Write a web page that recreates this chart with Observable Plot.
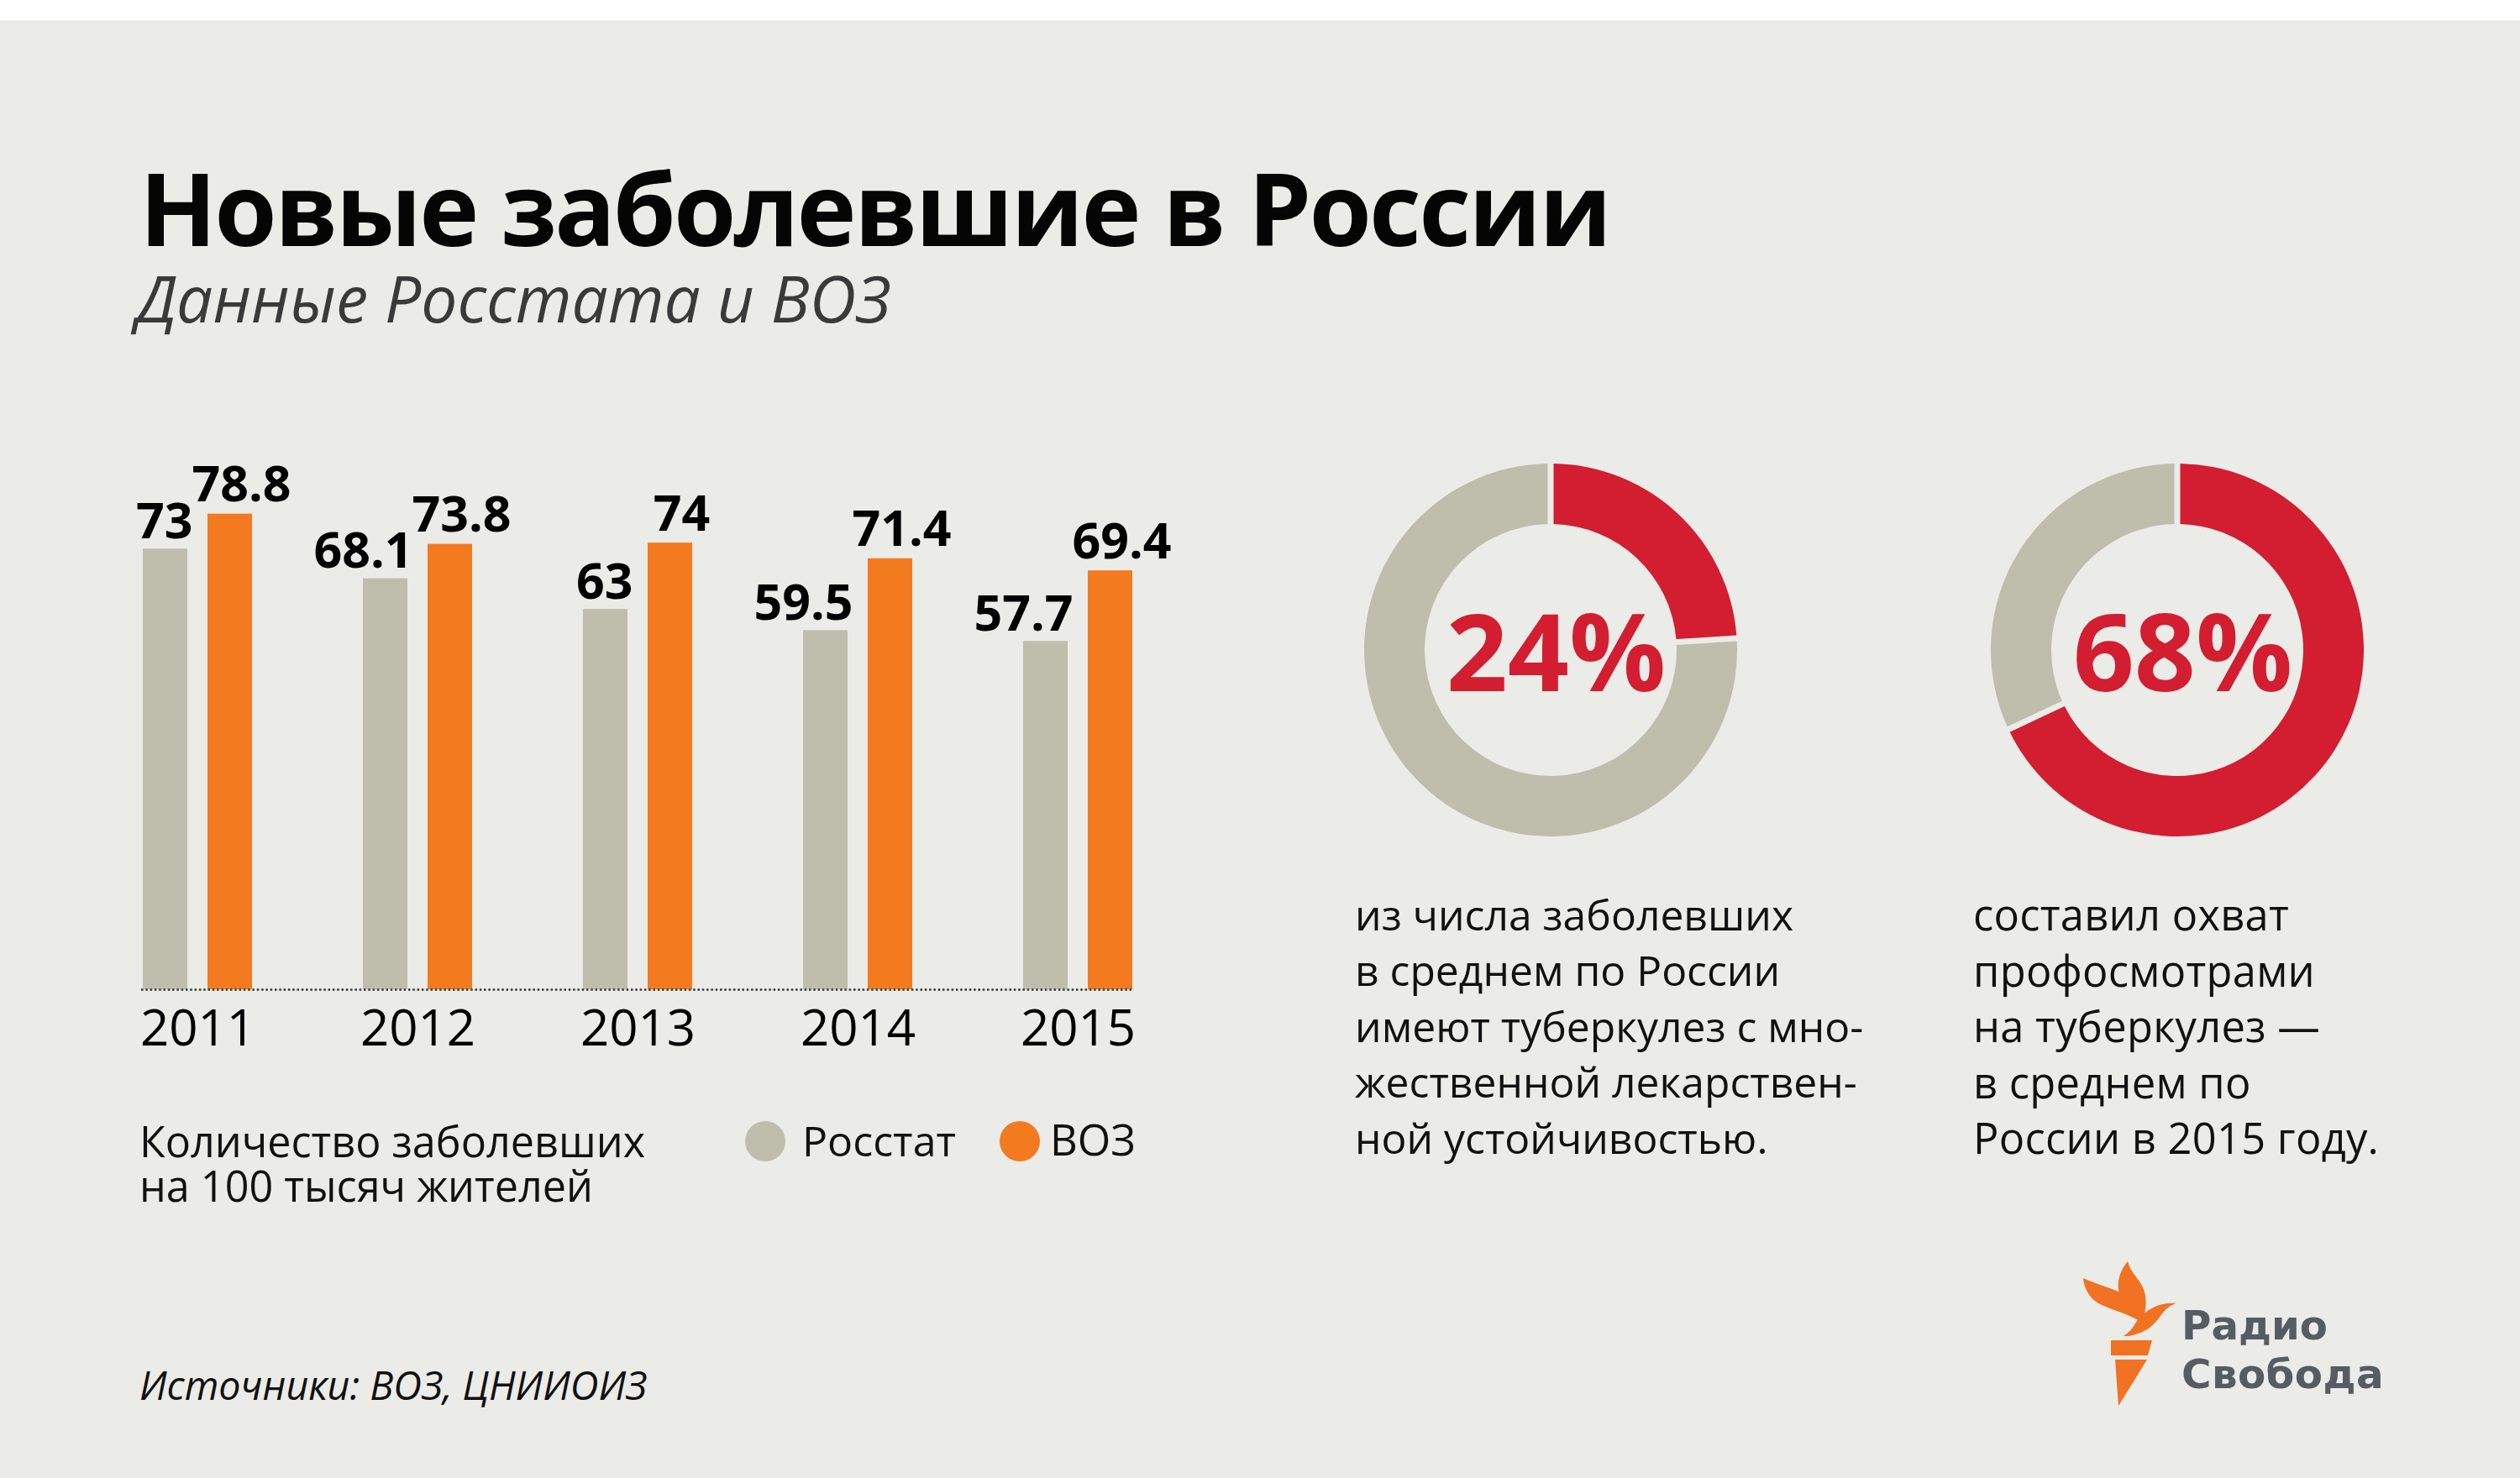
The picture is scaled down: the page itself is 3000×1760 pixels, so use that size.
<!DOCTYPE html>
<html>
<head>
<meta charset="utf-8">
<script src="https://cdn.jsdelivr.net/npm/d3@7"></script>
<script src="https://cdn.jsdelivr.net/npm/@observablehq/plot@0.6"></script>
<style>
  html, body { margin: 0; padding: 0; }
  body { width: 3000px; height: 1760px; position: relative; overflow: hidden;
         background: #ebebe7; font-family: "Open Sans", "Noto Sans", sans-serif; color: #000; }
  #topband { position: absolute; left: 0; top: 0; width: 3000px; height: 24px; background: #fff; }
  .t { position: absolute; white-space: nowrap; }
  .abs { position: absolute; }
  .dot { position: absolute; width: 48px; height: 48px; border-radius: 50%; }
</style>
</head>
<body>
<div id="topband"></div>
<script>
// ---------- data ----------
const years = ["2011", "2012", "2013", "2014", "2015"];
const rosstat = [73, 68.1, 63, 59.5, 57.7];
const who = [78.8, 73.8, 74, 71.4, 69.4];
const seriesNames = ["Росстат", "ВОЗ"];

const donutLabels = ["24%", "68%"];
const donutShares = [24, 68];

const titleText = "Новые заболевшие в России";
const subtitleText = "Данные Росстата и ВОЗ";
const unitLines = ["Количество заболевших", "на 100 тысяч жителей"];
const sourceText = "Источники: ВОЗ, ЦНИИОИЗ";
const donutText1 = ["из числа заболевших", "в среднем по России", "имеют туберкулез с мно-", "жественной лекарствен-", "ной устойчивостью."];
const donutText2 = ["составил охват", "профосмотрами", "на туберкулез —", "в среднем по", "России в 2015 году."];
const logoLines = ["Радио", "Свобода"];

// ---------- styles ----------
const GRAY = "#bfbeac";
const ORANGE = "#f47a20";
const RED = "#d21e30";

// ---------- helpers ----------
function styleEl(el, o) {
  Object.assign(el.style, {
    left: o.x + "px",
    fontWeight: o.weight ?? 400,
    fontStyle: o.style ?? "normal",
    color: o.color ?? "#000",
    fontFamily: o.family ?? "inherit"
  });
}
function setSize(el, o, size) {
  const k = o.metric ?? 0.888;
  el.style.fontSize = size + "px";
  el.style.lineHeight = size + "px";
  el.style.top = (el._baseline - k * size) + "px";
}
// Each line is its own element; width of first line fitted by size (clamped) then letter spacing.
function addBlock(lines, o) {
  let size = o.size, ls = 0;
  lines.forEach((s, i) => {
    const el = document.createElement("div");
    el._baseline = o.baseline + i * (o.lh ?? 0);
    el.className = "t";
    el.textContent = s;
    styleEl(el, o);
    document.body.appendChild(el);
    setSize(el, o, o.size);
    if (i === 0 && o.target) {
      const w0 = el.getBoundingClientRect().width;
      const sc = Math.max(o.lo ?? 1, Math.min(o.hi ?? 1, o.target / w0));
      size = o.size * sc;
      setSize(el, o, size);
      const w1 = el.getBoundingClientRect().width;
      ls = (o.target - w1) / s.length;
    }
    setSize(el, o, size);
    el.style.letterSpacing = ls + "px";
  });
}
function addText(str, o) { addBlock([str], o); }
// Multi-line text in a single element (Open Sans metrics).
function addMultiline(lines, o) {
  const el = document.createElement("div");
  el.className = "t";
  el.style.whiteSpace = "pre";
  styleEl(el, o);
  document.body.appendChild(el);
  const place = (size) => {
    el.style.fontSize = size + "px";
    el.style.lineHeight = o.lh + "px";
    el.style.top = (o.baseline - o.lh / 2 - 0.388 * size) + "px";
  };
  // measure first line alone
  el.textContent = lines[0];
  place(o.size);
  const w0 = el.getBoundingClientRect().width;
  const sc = Math.max(o.lo ?? 1, Math.min(o.hi ?? 1, o.target / w0));
  const size = o.size * sc;
  place(size);
  const w1 = el.getBoundingClientRect().width;
  el.style.letterSpacing = ((o.target - w1) / lines[0].length) + "px";
  el.textContent = lines.join("\n");
}

// ---------- titles ----------
addText(titleText, {x: 166, baseline: 293, size: 124, weight: 700, color: "#050505", target: 1750, lo: 0.97, hi: 1.0});
addText(subtitleText, {x: 162, baseline: 384, size: 76, weight: 400, style: "italic", color: "#3a3a3a", target: 898, lo: 0.95, hi: 1.06});

// ---------- bar chart ----------
const barData = years.flatMap((y, i) => [
  {year: y, series: seriesNames[0], value: rosstat[i]},
  {year: y, series: seriesNames[1], value: who[i]}
]);
const grayData = barData.filter(d => d.series === seriesNames[0]);
const orangeData = barData.filter(d => d.series === seriesNames[1]);

const chart = Plot.plot({
  width: 1420,
  height: 758,
  marginLeft: 168,
  marginRight: 70,
  marginTop: 83,
  marginBottom: 100,
  style: {background: "transparent", fontFamily: "'Open Sans', sans-serif", overflow: "visible"},
  x: {domain: years, paddingInner: 0.5057, paddingOuter: 0, axis: null},
  y: {domain: [0, 80], axis: null},
  color: {domain: seriesNames, range: [GRAY, ORANGE]},
  marks: [
    Plot.barY(grayData, {x: "year", y: "value", fill: "series", insetRight: 77}),
    Plot.barY(orangeData, {x: "year", y: "value", fill: "series", insetLeft: 77}),
    Plot.ruleY([0], {stroke: "#333", strokeWidth: 2.5, strokeDasharray: "2.5,2.8"}),
    Plot.text(grayData, {x: "year", y: "value", text: d => String(d.value), textAnchor: "end",
      lineAnchor: "bottom", dx: -6, dy: -13, fontSize: 59, fontWeight: 700, fill: "#000"}),
    Plot.text(orangeData, {x: "year", y: "value", text: d => String(d.value), textAnchor: "middle",
      lineAnchor: "bottom", dx: 52, dy: -15, fontSize: 59, fontWeight: 700, fill: "#000"}),
    Plot.axisX({tickSize: 0, tickPadding: 24, fontSize: 60, label: null, fill: "#000"})
  ]
});
const chartWrap = document.createElement("div");
chartWrap.className = "abs";
chartWrap.style.left = "0px";
chartWrap.style.top = "520px";
chartWrap.appendChild(chart);
document.body.appendChild(chartWrap);

// ---------- legend & unit note ----------
addMultiline(unitLines, {x: 166, baseline: 1378, lh: 53, size: 49, color: "#111", target: 602, lo: 0.95, hi: 1.08});
[[GRAY, 887], [ORANGE, 1190]].forEach(([col, cx]) => {
  const d = document.createElement("div");
  d.className = "dot";
  d.style.left = cx + "px";
  d.style.top = (1359 - 24) + "px";
  d.style.background = col;
  document.body.appendChild(d);
});
addText(seriesNames[0], {x: 955, baseline: 1377, size: 49, color: "#111", target: 183, lo: 0.95, hi: 1.08});
addText(seriesNames[1], {x: 1250, baseline: 1377, size: 49, color: "#111", target: 102, lo: 0.95, hi: 1.08});

// ---------- donuts ----------
const donutData = donutLabels.map((l, i) => ({label: l, share: donutShares[i]}));
const donuts = Plot.plot({
  width: 1300,
  height: 508,
  marginLeft: 266,
  marginRight: 288,
  marginTop: 0,
  marginBottom: 0,
  style: {background: "transparent", fontFamily: "'Open Sans', sans-serif", overflow: "visible"},
  x: {type: "point", domain: donutLabels, padding: 0, axis: null},
  marks: [
    (index, scales, values, dims) => {
      const g = d3.create("svg:g");
      const cy = (dims.marginTop + dims.height - dims.marginBottom) / 2;
      const arc = d3.arc().innerRadius(150).outerRadius(222).padAngle(7 / 222).padRadius(222);
      donutData.forEach(d => {
        const slices = d3.pie().sort(null).value(v => v)([d.share, 100 - d.share]);
        g.append("g")
          .attr("transform", `translate(${scales.x(d.label)},${cy})`)
          .selectAll("path").data(slices).join("path")
          .attr("d", arc)
          .attr("fill", (p, i) => i === 0 ? RED : GRAY);
      });
      return g.node();
    },
    Plot.text(donutData, {x: "label", text: "label", frameAnchor: "middle", fill: RED,
      fontSize: 128, fontWeight: 700, dx: 6, dy: 8})
  ]
});
const donutWrap = document.createElement("div");
donutWrap.className = "abs";
donutWrap.style.left = "1580px";
donutWrap.style.top = "520px";
donutWrap.appendChild(donuts);
document.body.appendChild(donutWrap);

addBlock(donutText1, {x: 1613, baseline: 1109, lh: 66.5, size: 46, color: "#111", target: 522, lo: 0.95, hi: 1.1});
addBlock(donutText2, {x: 2349, baseline: 1109, lh: 66.5, size: 46, color: "#111", target: 376, lo: 0.95, hi: 1.1});

// ---------- source ----------
addText(sourceText, {x: 166, baseline: 1667, size: 46, style: "italic", color: "#111", target: 604, lo: 0.95, hi: 1.08});

// ---------- logo ----------
const ns = "http://www.w3.org/2000/svg";
const logo = document.createElementNS(ns, "svg");
logo.setAttribute("width", "160");
logo.setAttribute("height", "200");
logo.style.position = "absolute";
logo.style.left = "2460px";
logo.style.top = "1490px";
[
  "M53,106 L102,106 L97,124 L53,124 Z",
  "M58,129 L96,129 L62,184 Z",
  "M20,32 C45,44 74,46 88,70 L95,90 C82,76 58,72 38,62 C27,55 21,44 20,32 Z",
  "M73,12 C58,30 58,52 72,66 C80,74 85,80 88,88 C97,70 97,50 87,36 C81,28 75,21 73,12 Z",
  "M131,62 C106,60 90,74 82,86 C78,93 74,97 68,101 C86,101 101,92 109,81 C116,71 121,65 131,62 Z"
].forEach(dStr => {
  const p = document.createElementNS(ns, "path");
  p.setAttribute("d", dStr);
  p.setAttribute("fill", "#f07222");
  logo.appendChild(p);
});
document.body.appendChild(logo);
addText(logoLines[0], {x: 2597, baseline: 1595, size: 44, weight: 700, color: "#565c63",
  family: "'DejaVu Sans', sans-serif", metric: 0.846, target: 174, lo: 0.95, hi: 1.1});
addText(logoLines[1], {x: 2597, baseline: 1653, size: 44, weight: 700, color: "#565c63",
  family: "'DejaVu Sans', sans-serif", metric: 0.846, target: 241, lo: 0.95, hi: 1.1});
</script>
</body>
</html>
